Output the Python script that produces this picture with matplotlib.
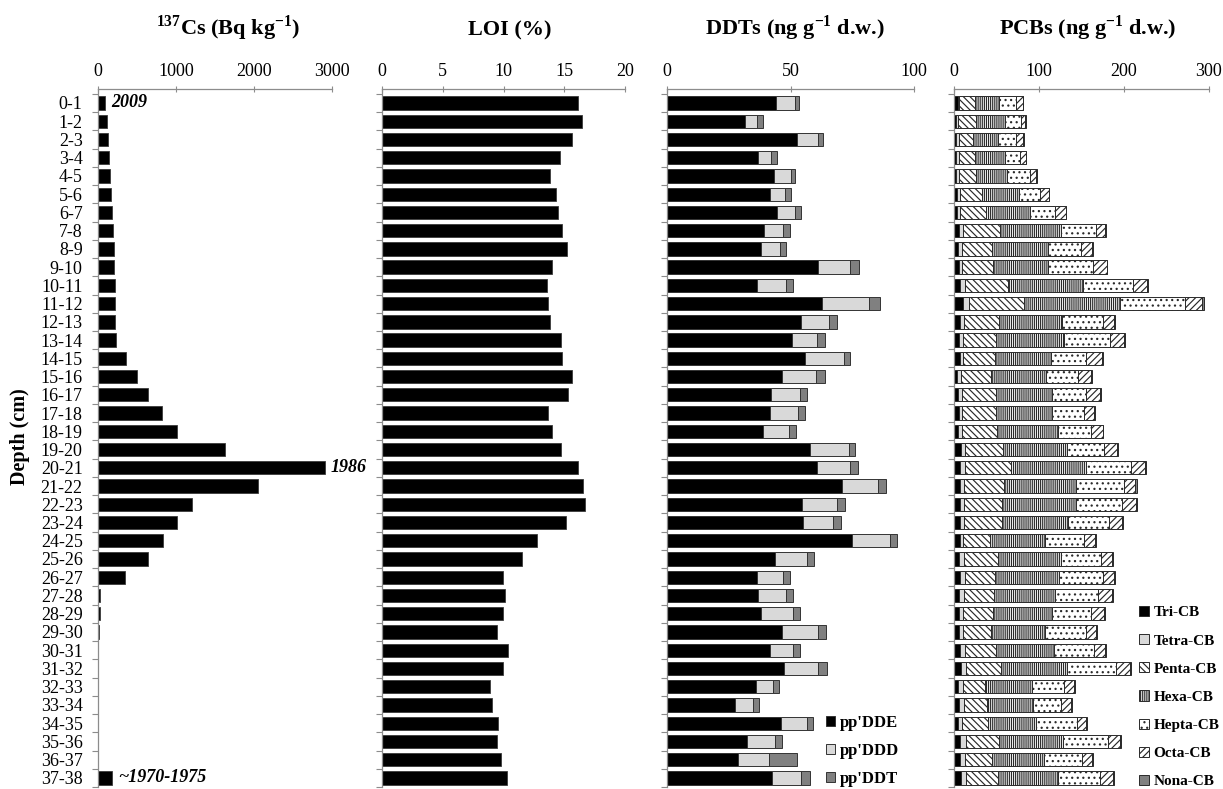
import numpy as np
import matplotlib
matplotlib.use("Agg")
import matplotlib.pyplot as plt
from matplotlib.patches import Patch
from matplotlib.ticker import FixedLocator

plt.rcParams['font.family'] = ['Liberation Serif', 'DejaVu Serif']
plt.rcParams['mathtext.fontset'] = 'custom'
plt.rcParams['mathtext.rm'] = 'Liberation Serif'
plt.rcParams['mathtext.bf'] = 'Liberation Serif:bold'
plt.rcParams['hatch.linewidth'] = 0.85

depths = [f"{d}-{d + 1}" for d in range(38)]

cs137 = [90, 111, 128, 141, 158, 171, 184, 196, 200, 209, 213, 218, 222, 226,
         363, 500, 636, 824, 1007, 1622, 2906, 2053, 1204, 1016, 832, 644, 341,
         30, 21, 13, 6, 5, 5, 5, 5, 5, 5, 175]
loi = [16.14, 16.47, 15.59, 14.63, 13.84, 14.27, 14.47, 14.79, 15.18, 13.97,
       13.56, 13.64, 13.78, 14.71, 14.77, 15.62, 15.32, 13.64, 13.95, 14.71,
       16.14, 16.55, 16.71, 15.12, 12.77, 11.51, 9.95, 10.11, 9.92, 9.48,
       10.38, 9.92, 8.90, 9.07, 9.51, 9.42, 9.75, 10.27]

dde = [44.1, 31.6, 52.4, 36.7, 43.2, 41.7, 44.4, 39.1, 37.8, 61.1, 36.2, 62.5,
       54.0, 50.5, 55.7, 46.6, 42.1, 41.6, 38.6, 57.8, 60.5, 70.6, 54.5, 55.1,
       74.8, 43.5, 36.4, 36.8, 37.9, 46.4, 41.6, 47.1, 35.9, 27.5, 45.9, 32.3,
       28.5, 42.2]
ddd = [7.8, 4.7, 8.8, 5.1, 6.7, 5.9, 7.2, 7.6, 7.8, 12.7, 11.8, 19.0, 11.6,
       10.1, 15.8, 13.6, 11.5, 11.3, 10.7, 15.7, 13.4, 14.8, 14.2, 12.1, 15.5,
       12.9, 10.4, 11.2, 13.1, 14.6, 9.3, 14.0, 6.9, 7.3, 10.8, 11.4, 12.5, 12.1]
ddt = [1.5, 2.4, 1.8, 2.6, 2.0, 2.4, 2.7, 2.8, 2.4, 3.7, 2.9, 4.7, 3.1, 3.1,
       2.6, 3.5, 2.9, 2.8, 2.9, 2.6, 3.4, 3.3, 3.2, 3.1, 2.5, 2.8, 2.7, 2.7,
       2.6, 3.1, 2.7, 3.7, 2.5, 2.3, 2.1, 2.7, 11.5, 3.3]

tri_cb = [4.3, 2.4, 2.4, 2.4, 2.4, 3.1, 3.1, 5.1, 4.7, 5.1, 7.1, 10.2, 6.3, 5.9,
          6.3, 3.1, 4.7, 5.1, 4.3, 7.5, 7.1, 6.3, 6.3, 6.3, 7.1, 5.9, 6.3, 5.1,
          5.5, 5.5, 7.1, 7.5, 4.7, 5.1, 4.7, 7.1, 6.7, 7.5]
tetra_cb = [1.2, 2.4, 2.7, 2.7, 2.7, 3.5, 3.5, 5.1, 3.9, 4.3, 5.5, 7.1, 4.7,
            4.3, 3.9, 4.7, 3.9, 3.9, 4.7, 5.5, 5.1, 4.7, 5.5, 4.7, 3.1, 5.1,
            5.9, 6.7, 5.1, 4.7, 5.9, 5.9, 5.1, 5.9, 4.7, 6.3, 5.5, 5.9]
penta_cb = [18.9, 20.4, 16.5, 19.3, 20.4, 26.0, 31.0, 44.0, 35.4, 35.8, 51.1,
            64.5, 42.1, 38.9, 37.4, 35.4, 40.5, 40.5, 41.7, 44.4, 55.0, 47.2,
            44.4, 44.7, 31.9, 40.5, 35.4, 35.4, 35.0, 32.6, 35.7, 41.2, 26.0,
            27.5, 30.7, 39.7, 32.2, 38.1]
hexa_cb = [28.3, 35.0, 29.9, 35.3, 36.6, 43.2, 51.1, 71.6, 66.5, 65.3, 88.0,
           114.0, 74.3, 80.2, 66.4, 64.5, 65.7, 65.3, 71.5, 75.5, 88.1, 85.7,
           86.9, 78.6, 65.2, 73.9, 75.8, 71.5, 70.0, 63.7, 68.8, 78.7, 55.8,
           54.3, 56.6, 75.4, 60.9, 70.7]
hepta_cb = [19.6, 18.1, 20.8, 18.1, 26.7, 24.7, 29.9, 41.7, 39.3, 53.0, 58.6,
            76.2, 48.3, 54.3, 41.7, 38.5, 40.9, 38.5, 39.4, 43.6, 52.6, 56.2,
            54.2, 48.4, 45.2, 47.9, 51.9, 50.7, 46.0, 48.4, 46.8, 57.0, 37.7,
            33.4, 47.6, 52.3, 45.2, 49.1]
octa_cb = [8.3, 5.1, 8.7, 6.3, 7.9, 10.6, 12.6, 10.6, 12.9, 16.1, 16.9, 20.5,
           13.0, 16.9, 18.8, 14.9, 16.5, 11.4, 13.3, 15.3, 16.6, 13.3, 16.5,
           14.5, 13.8, 13.0, 13.0, 16.1, 14.5, 12.6, 13.4, 16.5, 11.8, 11.0,
           11.0, 14.6, 11.8, 15.8]
nona_cb = [0.4, 0.8, 0.8, 0.8, 0.8, 0.8, 0.8, 1.2, 0.8, 0.8, 1.2, 1.6, 0.8,
           1.2, 0.8, 0.8, 1.2, 1.2, 0.8, 1.2, 2.0, 2.0, 1.6, 1.2, 1.2, 1.2, 1.2,
           1.2, 1.2, 1.2, 1.2, 2.0, 1.2, 1.2, 1.2, 1.6, 1.2, 1.2]

cs_notes = {0: "2009", 20: "1986", 37: "~1970-1975"}

W, H = 1223, 789
fig = plt.figure(figsize=(W / 100, H / 100), dpi=100)

spine_col = '#8c8c8c'
y = np.arange(len(depths))
bar_h = 0.73


def make_axis(left_px, width_px, xmax, ticks, show_labels=False):
    ax = fig.add_axes([left_px / W, 1 - 787 / H, width_px / W, (787 - 89.3) / H])
    ax.set_xlim(0, xmax)
    ax.set_ylim(37.5, -0.75)
    ax.xaxis.tick_top()
    ax.set_xticks(ticks)
    ax.tick_params(axis='x', direction='inout', length=4, width=0.8,
                   color=spine_col, pad=5, labelsize=13)
    ax.set_yticks(y)
    ax.yaxis.set_minor_locator(FixedLocator(np.arange(-0.5, 38, 1)))
    ax.tick_params(axis='y', which='major', length=0, pad=11, labelsize=13)
    ax.tick_params(axis='y', which='minor', direction='out', length=4,
                   width=0.8, color=spine_col)
    if show_labels:
        ax.set_yticklabels(depths)
    else:
        ax.set_yticklabels([])
    for side in ['right', 'bottom']:
        ax.spines[side].set_visible(False)
    for side in ['top', 'left']:
        ax.spines[side].set_color(spine_col)
        ax.spines[side].set_linewidth(0.9)
    return ax


# 137Cs
ax1 = make_axis(98, 234, 3000, [0, 1000, 2000, 3000], show_labels=True)
ax1.barh(y, cs137, height=bar_h, color='black', edgecolor='#3a3a3a', linewidth=0.6)
for i, txt in cs_notes.items():
    ax1.annotate(txt, (cs137[i], i), xytext=(4.5, 0), textcoords='offset points',
                 va='center', ha='left', fontsize=13, fontweight='bold',
                 fontstyle='italic')

# LOI
ax2 = make_axis(382, 243.3, 20, [0, 5, 10, 15, 20])
ax2.barh(y, loi, height=bar_h, color='black', edgecolor='#3a3a3a', linewidth=0.6)

# DDTs
ax3 = make_axis(667.3, 247, 100, [0, 50, 100])
left = np.zeros(len(y))
ddt_series = [(dde, 'black', "pp'DDE"), (ddd, '#d9d9d9', "pp'DDD"),
              (ddt, '#808080', "pp'DDT")]
for vals, col, lab in ddt_series:
    ax3.barh(y, vals, left=left, height=bar_h, color=col, edgecolor='#333333',
             linewidth=0.7, label=lab)
    left += np.array(vals)
ax3.legend(loc='upper left', bbox_to_anchor=(826 / W, 1 - 715 / H),
           bbox_transform=fig.transFigure, frameon=False,
           prop={'weight': 'bold', 'size': 12}, handlelength=0.55,
           handleheight=0.55, handletextpad=0.3, labelspacing=0.72,
           borderpad=0, borderaxespad=0)

# PCBs
ax4 = make_axis(954.3, 254.4, 300, [0, 100, 200, 300])
pcb_series = [
    (tri_cb, 'black', None, 'Tri-CB'),
    (tetra_cb, '#d9d9d9', None, 'Tetra-CB'),
    (penta_cb, 'white', '\\\\\\\\\\', 'Penta-CB'),
    (hexa_cb, 'white', '||||||||', 'Hexa-CB'),
    (hepta_cb, 'white', '...', 'Hepta-CB'),
    (octa_cb, 'white', '/////', 'Octa-CB'),
    (nona_cb, '#808080', None, 'Nona-CB'),
]
left = np.zeros(len(y))
for vals, col, hatch, lab in pcb_series:
    ax4.barh(y, vals, left=left, height=bar_h, color=col, edgecolor='#2a2a2a',
             linewidth=0.7, hatch=hatch, label=lab)
    left += np.array(vals)
handles = [Patch(facecolor=c, edgecolor='#2a2a2a', hatch=h, linewidth=0.7, label=l)
           for _, c, h, l in pcb_series]
ax4.legend(handles=handles, loc='upper left', bbox_to_anchor=(1139 / W, 1 - 606 / H),
           bbox_transform=fig.transFigure, frameon=False,
           prop={'weight': 'bold', 'size': 11}, handlelength=0.65,
           handleheight=0.65, handletextpad=0.3, labelspacing=0.96,
           borderpad=0, borderaxespad=0)

# titles
title_kw = dict(ha='center', va='baseline', fontsize=16, fontweight='bold')
fig.text(228 / W, 1 - 35 / H, r"$^{\mathbf{137}}$Cs (Bq kg$^{\mathbf{-1}}$)", **title_kw)
fig.text(510 / W, 1 - 35 / H, "LOI (%)", **title_kw)
fig.text(795 / W, 1 - 35 / H, r"DDTs (ng g$^{\mathbf{-1}}$ d.w.)", **title_kw)
fig.text(1088 / W, 1 - 35 / H, r"PCBs (ng g$^{\mathbf{-1}}$ d.w.)", **title_kw)
fig.text(20 / W, 1 - 437 / H, "Depth (cm)", rotation=90, ha='center', va='center',
         fontsize=14.5, fontweight='bold')

fig.savefig("out.png", dpi=100)
